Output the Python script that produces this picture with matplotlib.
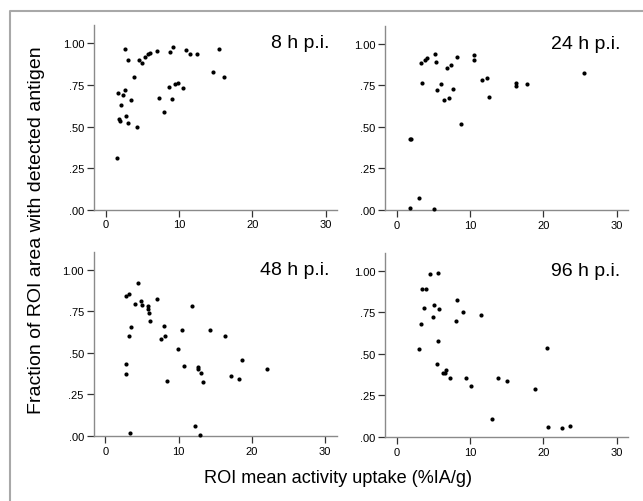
import matplotlib
matplotlib.use("Agg")
import matplotlib.pyplot as plt
from matplotlib.lines import Line2D

# uptake (%IA/g) and antigen fraction, one pair of lists per time point
x_8h = [1.5, 1.64, 1.8, 1.95, 2.1, 2.3, 2.6, 2.6, 2.7, 3.1, 3.1, 3.5, 3.9, 4.3, 4.5,
		5.0, 5.3, 5.7, 6.1, 7.0, 7.2, 8.0, 8.6, 8.8, 9.1, 9.2, 9.5, 9.9, 10.6, 11.0,
		11.5, 12.4, 14.6, 15.4, 16.1]
y_8h = [0.31, 0.705, 0.545, 0.535, 0.63, 0.69, 0.72, 0.964, 0.565, 0.90, 0.52, 0.657,
		0.80, 0.497, 0.898, 0.882, 0.92, 0.936, 0.942, 0.952, 0.671, 0.589, 0.737, 0.95,
		0.667, 0.976, 0.757, 0.762, 0.733, 0.96, 0.938, 0.938, 0.828, 0.964, 0.80]

x_24h = [1.82, 1.95, 1.82, 3.0, 5.05, 3.36, 3.5, 3.86, 4.1, 5.2, 5.3, 5.55, 6.05, 6.5,
		 6.8, 7.1, 7.45, 7.64, 8.2, 8.77, 10.5, 10.5, 11.6, 12.3, 12.6, 16.3, 16.3,
		 17.8, 25.6]
y_24h = [0.425, 0.425, 0.012, 0.074, 0.006, 0.883, 0.763, 0.905, 0.913, 0.936, 0.893,
		 0.722, 0.757, 0.66, 0.857, 0.676, 0.873, 0.726, 0.922, 0.515, 0.932, 0.903,
		 0.785, 0.797, 0.682, 0.765, 0.746, 0.757, 0.825]

x_48h = [4.45, 2.8, 3.2, 4.05, 4.9, 4.95, 5.8, 5.77, 5.95, 6.05, 7.05, 11.8, 3.55, 3.27,
		 8.05, 7.64, 8.2, 10.5, 14.3, 16.4, 9.95, 2.9, 2.86, 8.45, 10.8, 12.6, 12.6,
		 13.1, 13.4, 17.1, 18.2, 18.7, 22.1, 3.36, 12.3, 12.9]
y_48h = [0.92, 0.843, 0.855, 0.797, 0.811, 0.789, 0.783, 0.763, 0.741, 0.689, 0.823,
		 0.783, 0.657, 0.602, 0.661, 0.582, 0.602, 0.637, 0.637, 0.604, 0.524, 0.436,
		 0.373, 0.329, 0.42, 0.416, 0.406, 0.378, 0.323, 0.363, 0.345, 0.456, 0.406,
		 0.02, 0.058, 0.004]

x_96h = [4.6, 5.68, 3.45, 3.95, 3.77, 5.1, 5.8, 5.0, 8.2, 9.1, 8.05, 11.45, 3.36, 3.1,
		 5.6, 5.5, 6.3, 6.55, 6.7, 7.2, 9.45, 10.2, 13.8, 15.05, 18.9, 20.5, 13.05,
		 20.6, 22.6, 23.7]
y_96h = [0.98, 0.988, 0.888, 0.892, 0.775, 0.795, 0.771, 0.719, 0.825, 0.751, 0.697,
		 0.733, 0.679, 0.532, 0.58, 0.442, 0.384, 0.384, 0.404, 0.353, 0.353, 0.305,
		 0.357, 0.335, 0.289, 0.534, 0.11, 0.058, 0.052, 0.068]

titles = ["8 h p.i.", "24 h p.i.", "48 h p.i.", "96 h p.i."]
x_ticks = [0, 10, 20, 30]
y_ticks = [0, 0.25, 0.5, 0.75, 1.0]
y_tick_labels = [".00", ".25", ".50", ".75", "1.00"]

plt.rcParams["font.family"] = ["Liberation Sans", "DejaVu Sans"]

W, H = 643, 502


def panel(fig, left_px, bottom_px, xs, ys, title):
	"""One scatter panel, axis geometry given in pixels"""
	ax = fig.add_axes([left_px / W, 1 - bottom_px / H, 243 / W, 184.5 / H])
	ax.scatter(xs, ys, s=9, color="black", linewidths=0, clip_on=False, zorder=3)
	ax.set_xlim(-1.6, 31.55)
	ax.set_ylim(0, 1.11)
	ax.set_xticks(x_ticks)
	ax.set_yticks(y_ticks)
	ax.set_yticklabels(y_tick_labels)
	for side in ["top", "right"]:
		ax.spines[side].set_visible(False)
	for side in ["left", "bottom"]:
		ax.spines[side].set_color("#8a8a8a")
		ax.spines[side].set_linewidth(1.0)
	ax.tick_params(axis="both", labelsize=8, length=5, width=0.9, color="#333333", pad=2)
	ax.text(0.97, 0.905, title, transform=ax.transAxes, ha="right", va="center", fontsize=14)
	ax.patch.set_visible(False)
	return ax


def main():
	fig = plt.figure(figsize=(W / 100, H / 100), dpi=100)

	# grey frame round the whole figure
	fig.add_artist(Line2D([10 / W, 10 / W, 1.0], [0, 1 - 12 / H, 1 - 12 / H],
						  transform=fig.transFigure, color="#a8a8a8", linewidth=1.5))

	panel(fig, 94, 210.7, x_8h, y_8h, titles[0])
	panel(fig, 385, 211, x_24h, y_24h, titles[1])
	panel(fig, 93.5, 437, x_48h, y_48h, titles[2])
	panel(fig, 385, 438, x_96h, y_96h, titles[3])

	fig.text(37 / W, 1 - 230 / H, "Fraction of ROI area with detected antigen",
			 rotation=90, ha="center", va="center", fontsize=14)
	fig.text(337.5 / W, 1 - 479 / H, "ROI mean activity uptake (%IA/g)",
			 ha="center", va="center", fontsize=13.1)

	fig.savefig("out.png", dpi=100)


if __name__ == "__main__":
	main()
